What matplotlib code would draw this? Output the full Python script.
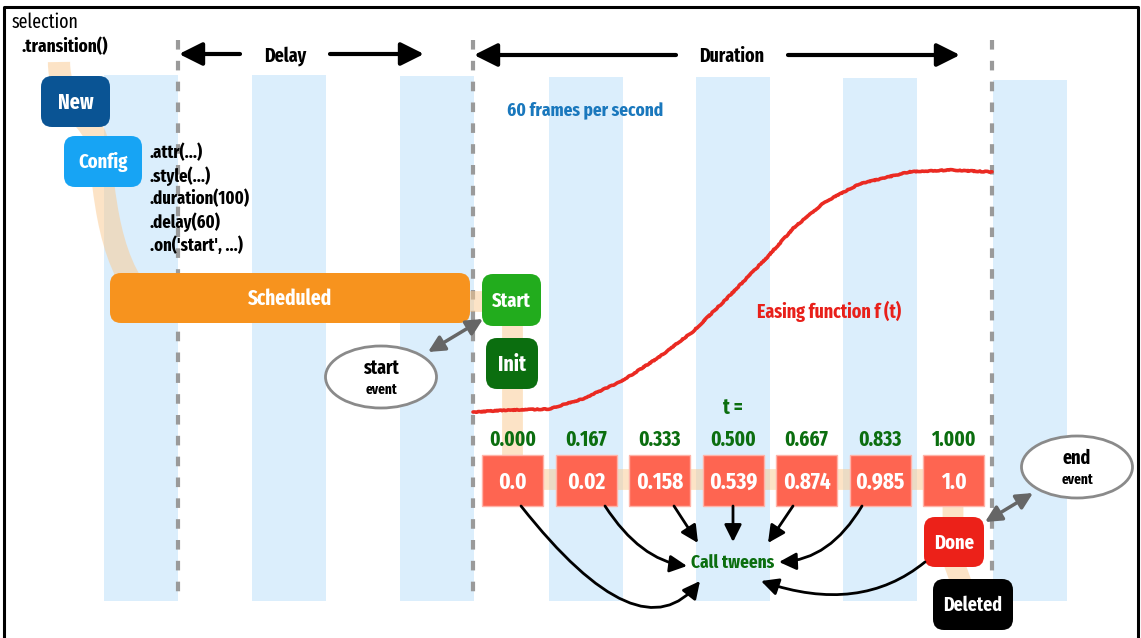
import matplotlib
matplotlib.use("Agg")
import matplotlib.pyplot as plt
from matplotlib.patches import FancyBboxPatch, Rectangle, Ellipse, FancyArrowPatch, PathPatch
from matplotlib.path import Path

plt.rcParams['font.family'] = ['Fira Sans Extra Condensed', 'Fira Sans Condensed', 'Barlow Condensed', 'DejaVu Sans']

# --- data ---
states = ['New', 'Config', 'Scheduled', 'Start', 'Init', 'Done', 'Deleted']
state_colors = ['#0a5494', '#17a4f4', '#f7931e', '#22ac1d', '#0b6e0f', '#ec2119', '#000000']
config_calls = ['.attr(...)', '.style(...)', '.duration(100)', '.delay(60)', ".on('start', ...)"]
t_values = [0.000, 0.167, 0.333, 0.500, 0.667, 0.833, 1.000]
eased_values = ['0.0', '0.02', '0.158', '0.539', '0.874', '0.985', '1.0']
# easing curve, normalised time vs eased value
curve_t = [0.0, 0.07, 0.145, 0.21, 0.287, 0.358, 0.424, 0.489, 0.566, 0.618, 0.678, 0.744, 0.84, 0.919, 1.0]
curve_f = [0.0, 0.008, 0.012, 0.053, 0.128, 0.226, 0.333, 0.469, 0.638, 0.761, 0.868, 0.942, 0.992, 1.0, 0.992]

W, H = 1141, 638
fig = plt.figure(figsize=(W / 100, H / 100), dpi=100)
ax = fig.add_axes([0, 0, 1, 1])
ax.set_xlim(0, W)
ax.set_ylim(H, 0)
ax.axis('off')

# frame (open at the bottom)
ax.plot([4, 4, 1138, 1138], [640, 7, 7, 640], color='black', lw=2.2, zorder=1)

# frame stripes
stripe_x = [104, 252, 400, 549, 696, 843, 993]
stripe_top = [75, 75, 76, 77, 77, 78, 80]
for sx, st in zip(stripe_x, stripe_top):
    ax.add_patch(Rectangle((sx, st), 74, 601 - st, fc='#dbeefc', ec='none', zorder=0))

# dashed boundaries
for dx in [178, 473, 992]:
    ax.plot([dx, dx], [40, 601], color='#9a9a9a', lw=3, ls=(0, (2.3, 2.7)), zorder=2)

# Delay / Duration arrows
arr_kw = dict(arrowstyle='-|>,head_length=1.0,head_width=0.5', color='black', lw=3,
              mutation_scale=14, shrinkA=0, shrinkB=0, zorder=3)
ax.add_patch(FancyArrowPatch((240, 54), (179, 54), **arr_kw))
ax.add_patch(FancyArrowPatch((330, 54), (424, 54), **arr_kw))
ax.add_patch(FancyArrowPatch((676, 55), (474, 55), **arr_kw))
ax.add_patch(FancyArrowPatch((788, 55), (960, 55), **arr_kw))
ax.text(285, 56, 'Delay', ha='center', va='center', fontsize=14, fontweight='bold')
ax.text(732, 56, 'Duration', ha='center', va='center', fontsize=14, fontweight='bold')

ax.text(585, 110, '60 frames per second', ha='center', va='center', fontsize=13.5,
        fontweight='bold', color='#1a78bd')

ax.text(12, 22, 'selection', ha='left', va='center', fontsize=14)
ax.text(22, 47, '.transition()', ha='left', va='center', fontsize=13.5, fontweight='bold')

# life-cycle track
track_kw = dict(color='#fbc98e', alpha=0.5, lw=15, solid_capstyle='butt', zorder=3)
trk = Path([(59, 62), (59, 100), (85, 115), (95, 135),
            (105, 160), (100, 245), (140, 295)],
           [Path.MOVETO, Path.CURVE4, Path.CURVE4, Path.CURVE4,
            Path.CURVE4, Path.CURVE4, Path.CURVE4])
ax.add_patch(PathPatch(trk, fc='none', ec='#fbc98e', alpha=0.5, lw=16, zorder=3, capstyle='butt'))
ax.plot([460, 495], [301, 301], **track_kw)
ax.plot([512, 512], [320, 470], **track_kw)
ax.plot([512, 953], [479, 479], **track_kw)
ax.plot([953, 953, 962], [500, 560, 585], **track_kw)

# rounded state boxes
def state_box(x0, y0, x1, y1, name, fs=14.5):
    i = states.index(name)
    ax.add_patch(FancyBboxPatch((x0, y0), x1 - x0, y1 - y0,
                                boxstyle='round,pad=0,rounding_size=11',
                                fc=state_colors[i], ec='none', zorder=4))
    ax.text((x0 + x1) / 2, (y0 + y1) / 2 + 1, name, color='white', ha='center', va='center',
            fontsize=fs, fontweight='bold', zorder=5)

state_box(41, 76, 110, 127, 'New', fs=15.5)
state_box(64, 136, 142, 187, 'Config')
state_box(110, 273, 470, 323, 'Scheduled', fs=15)
state_box(482, 274, 541, 326, 'Start')
state_box(486, 338, 538, 389, 'Init', fs=15.5)
state_box(924, 517, 984, 567, 'Done')
state_box(933, 579, 1013, 630, 'Deleted', fs=14)

for k, call in enumerate(config_calls):
    ax.text(150, 153 + k * 23, call, ha='left', va='center', fontsize=13, fontweight='bold')

# events
for cx, cy, word, a0, a1 in [(381, 377, 'start', (483, 319), (428, 352)),
                             (1077, 467, 'end', (985, 522), (1033, 493))]:
    ax.add_patch(Ellipse((cx, cy), 111, 62, fc='white', ec='#8a8a8a', lw=2, zorder=4))
    ax.text(cx, cy - 9, word, ha='center', va='center', fontsize=14, fontweight='bold', zorder=5)
    ax.text(cx, cy + 13, 'event', ha='center', va='center', fontsize=10.5, fontweight='bold', zorder=5)
    ax.add_patch(FancyArrowPatch(a0, a1, arrowstyle='<|-|>,head_length=0.7,head_width=0.35',
                                 color='#666666', lw=2.5, mutation_scale=14,
                                 shrinkA=0, shrinkB=0, zorder=5))

# easing curve
x_start, x_end, y_zero, y_one = 473, 992, 412, 170
cx = [x_start + t * (x_end - x_start) for t in curve_t]
cy = [y_zero - f * (y_zero - y_one) for f in curve_f]
line, = ax.plot(cx, cy, color='#ea2a22', lw=2.6, zorder=3, solid_capstyle='round')
line.set_sketch_params(0.4, 4, 30)
ax.text(829, 311, 'Easing function f (t)', ha='center', va='center', fontsize=14,
        fontweight='bold', color='#e8201a')

# frames
ax.text(733, 408, 't =', ha='center', va='center', fontsize=15, fontweight='bold', color='#0b6e0f')
box_cx = [512.5 + k * 73.5 for k in range(len(t_values))]
for bx, t, e in zip(box_cx, t_values, eased_values):
    ax.text(bx, 440, f'{t:.3f}', ha='center', va='center', fontsize=15, fontweight='bold',
            color='#0b6e0f', zorder=5)
    ax.add_patch(Rectangle((bx - 30.5, 455), 61, 51, fc='#fe6551', ec='#ffb3a8', lw=1, zorder=4))
    ax.text(bx, 482, e, ha='center', va='center', fontsize=16.5, fontweight='bold',
            color='white', zorder=5)

ax.text(733, 563, 'Call tweens', ha='center', va='center', fontsize=13.5, fontweight='bold',
        color='#0b6e0f', zorder=5)

# arrows into "Call tweens"
tween_kw = dict(arrowstyle='-|>,head_length=0.8,head_width=0.4', color='black', lw=2,
                mutation_scale=13, zorder=5)
for p0, pc, p1 in [((521, 506), (640, 657), (700, 581)),
                   ((605, 506), (640, 560), (687, 566)),
                   ((862, 506), (830, 560), (779, 562)),
                   ((925, 562), (860, 615), (761, 581))]:
    pth = Path([p0, pc, p1], [Path.MOVETO, Path.CURVE3, Path.CURVE3])
    ax.add_patch(FancyArrowPatch(path=pth, **tween_kw))
for p0, p1 in [((674, 506), (698, 543)), ((733, 506), (733, 542)), ((793, 506), (768, 543))]:
    ax.add_patch(FancyArrowPatch(p0, p1, shrinkA=0, shrinkB=0, **tween_kw))

fig.savefig('out.png', dpi=100)
